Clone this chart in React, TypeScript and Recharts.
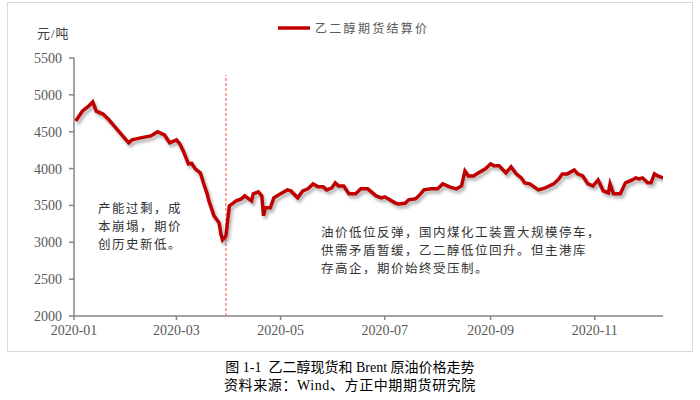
import React from "react";
import { LineChart, Line, XAxis, YAxis, ReferenceLine } from "recharts";

// 乙二醇期货结算价 (元/吨)
const dates = [
  "2020-01-02", "2020-01-06", "2020-01-09", "2020-01-12", "2020-01-14", "2020-01-18",
  "2020-01-21", "2020-02-02", "2020-02-04", "2020-02-09", "2020-02-15", "2020-02-19",
  "2020-02-23", "2020-02-26", "2020-03-01", "2020-03-03", "2020-03-05", "2020-03-08",
  "2020-03-10", "2020-03-12", "2020-03-15", "2020-03-17", "2020-03-19", "2020-03-20",
  "2020-03-23", "2020-03-26", "2020-03-27", "2020-03-28", "2020-03-30", "2020-04-01",
  "2020-04-05", "2020-04-08", "2020-04-10", "2020-04-14", "2020-04-15", "2020-04-18",
  "2020-04-20", "2020-04-21", "2020-04-22", "2020-04-25", "2020-04-27", "2020-05-01",
  "2020-05-05", "2020-05-07", "2020-05-11", "2020-05-14", "2020-05-17", "2020-05-20",
  "2020-05-23", "2020-05-26", "2020-05-28", "2020-05-31", "2020-06-02", "2020-06-04",
  "2020-06-07", "2020-06-10", "2020-06-14", "2020-06-17", "2020-06-21", "2020-06-26",
  "2020-06-29", "2020-07-01", "2020-07-04", "2020-07-07", "2020-07-09", "2020-07-13",
  "2020-07-15", "2020-07-19", "2020-07-21", "2020-07-24", "2020-07-28", "2020-08-01",
  "2020-08-04", "2020-08-08", "2020-08-12", "2020-08-15", "2020-08-17", "2020-08-19",
  "2020-08-22", "2020-08-25", "2020-08-29", "2020-09-01", "2020-09-03", "2020-09-06",
  "2020-09-10", "2020-09-13", "2020-09-16", "2020-09-19", "2020-09-21", "2020-09-24",
  "2020-09-29", "2020-10-03", "2020-10-08", "2020-10-11", "2020-10-13", "2020-10-16",
  "2020-10-20", "2020-10-22", "2020-10-25", "2020-10-28", "2020-10-31", "2020-11-03",
  "2020-11-06", "2020-11-09", "2020-11-10", "2020-11-12", "2020-11-16", "2020-11-19",
  "2020-11-23", "2020-11-25", "2020-11-27", "2020-11-29", "2020-12-02", "2020-12-04",
  "2020-12-06", "2020-12-08", "2020-12-11",
];

const prices = [
  4646, 4782, 4836, 4904, 4780, 4740,
  4673, 4350, 4390, 4416, 4443, 4500,
  4456, 4350, 4390, 4335, 4240, 4064,
  4070, 3996, 3942, 3792, 3657, 3562,
  3359, 3264, 3115, 3034, 3088, 3494,
  3562, 3589, 3630, 3562, 3657, 3684,
  3630, 3360, 3467, 3467, 3603, 3657,
  3711, 3697, 3603, 3697, 3725, 3792,
  3752, 3752, 3711, 3738, 3806, 3765,
  3765, 3657, 3657, 3725, 3725, 3630,
  3603, 3617, 3576, 3535, 3521, 3530,
  3576, 3590, 3630, 3711, 3725, 3725,
  3792, 3752, 3725, 3765, 3968, 3900,
  3900, 3942, 3996, 4064, 4037, 4037,
  3942, 4023, 3928, 3874, 3806, 3792,
  3711, 3738, 3792, 3860, 3928, 3928,
  3982, 3928, 3900, 3792, 3765, 3846,
  3697, 3670, 3792, 3657, 3657, 3806,
  3846, 3874, 3860, 3874, 3806, 3806,
  3928, 3900, 3874,
];

const tickDates = ["2020-01-01", "2020-03-01", "2020-05-01", "2020-07-01", "2020-09-01", "2020-11-01"];
const tickLabels = ["2020-01", "2020-03", "2020-05", "2020-07", "2020-09", "2020-11"];
const yTicks = [2000, 2500, 3000, 3500, 4000, 4500, 5000, 5500];
const markerDate = "2020-03-30";

const dayOf = (s: string) => {
  const [y, m, d] = s.split("-").map(Number);
  return (Date.UTC(y, m - 1, d) - Date.UTC(2020, 0, 1)) / 86400000;
};

const data = dates.map((d, i) => ({ day: dayOf(d), price: prices[i] }));
const xTicks = tickDates.map(dayOf);

const serif = '"Liberation Serif", "Noto Sans CJK SC", serif';
const RED = "#c00000";

const note: React.CSSProperties = {
  position: "absolute",
  fontFamily: serif,
  fontSize: 12.5,
  letterSpacing: 1.5,
  lineHeight: "18px",
  color: "#333",
  whiteSpace: "nowrap",
};

export default function App() {
  return (
    <div style={{ position: "absolute", left: 0, top: 0, width: 700, height: 400 }}>
      <style>{`.recharts-line-curve { filter: drop-shadow(2px 3px 1.5px rgba(0,0,0,0.3)); }`}</style>
      <div
        style={{
          position: "absolute",
          left: 7,
          top: 2,
          width: 686,
          height: 350,
          border: "1px solid #d9d9d9",
          boxSizing: "border-box",
        }}
      >
        <LineChart
          width={686}
          height={350}
          data={data}
          margin={{ top: 55, right: 31, bottom: 7, left: 10 }}
        >
          <XAxis
            type="number"
            dataKey="day"
            domain={[0, 345]}
            ticks={xTicks}
            tickFormatter={(v: number) => tickLabels[xTicks.indexOf(v)] ?? ""}
            height={30}
            stroke="#868686"
            strokeWidth={1.5}
            tickSize={4}
            tickMargin={5}
            tick={{ fontSize: 14, fill: "#595959", fontFamily: serif }}
            allowDataOverflow
          />
          <YAxis
            domain={[2000, 5500]}
            ticks={yTicks}
            width={56}
            stroke="#868686"
            strokeWidth={1.5}
            tickSize={5}
            tickMargin={7}
            tick={{ fontSize: 14, fill: "#595959", fontFamily: serif }}
          />
          <ReferenceLine
            segment={[
              { x: dayOf(markerDate), y: 2000 },
              { x: dayOf(markerDate), y: 5270 },
            ]}
            stroke="#e8554e"
            strokeDasharray="3 2"
            strokeWidth={1}
          />
          <Line
            type="linear"
            dataKey="price"
            name="乙二醇期货结算价"
            stroke={RED}
            strokeWidth={3.5}
            dot={false}
            isAnimationActive={false}
          />
        </LineChart>
        <div
          style={{
            position: "absolute",
            left: 269,
            top: 16,
            display: "flex",
            alignItems: "center",
            fontFamily: serif,
          }}
        >
          <svg width={34} height={8}>
            <line x1={1} y1={4} x2={33} y2={4} stroke={RED} strokeWidth={3.5} />
          </svg>
          <span style={{ marginLeft: 4, fontSize: 12, letterSpacing: 2.3, color: "#595959" }}>
            乙二醇期货结算价
          </span>
        </div>
        <div style={{ ...note, left: 29, top: 22, fontSize: 13, letterSpacing: 1, color: "#404040" }}>
          元/吨
        </div>
        <div style={{ ...note, left: 90, top: 197 }}>
          产能过剩，成
          <br />
          本崩塌，期价
          <br />
          创历史新低。
        </div>
        <div style={{ ...note, left: 313, top: 221 }}>
          油价低位反弹，国内煤化工装置大规模停车，
          <br />
          供需矛盾暂缓，乙二醇低位回升。但主港库
          <br />
          存高企，期价始终受压制。
        </div>
      </div>
      <div
        style={{
          position: "absolute",
          left: 0,
          top: 359,
          width: 700,
          textAlign: "center",
          fontFamily: serif,
          fontSize: 14,
          lineHeight: "18px",
          color: "#000",
        }}
      >
        图 1-1&nbsp;&nbsp;乙二醇现货和 Brent 原油价格走势
        <br />
        <span style={{ letterSpacing: 0.6 }}>资料来源：Wind、方正中期期货研究院</span>
      </div>
    </div>
  );
}
